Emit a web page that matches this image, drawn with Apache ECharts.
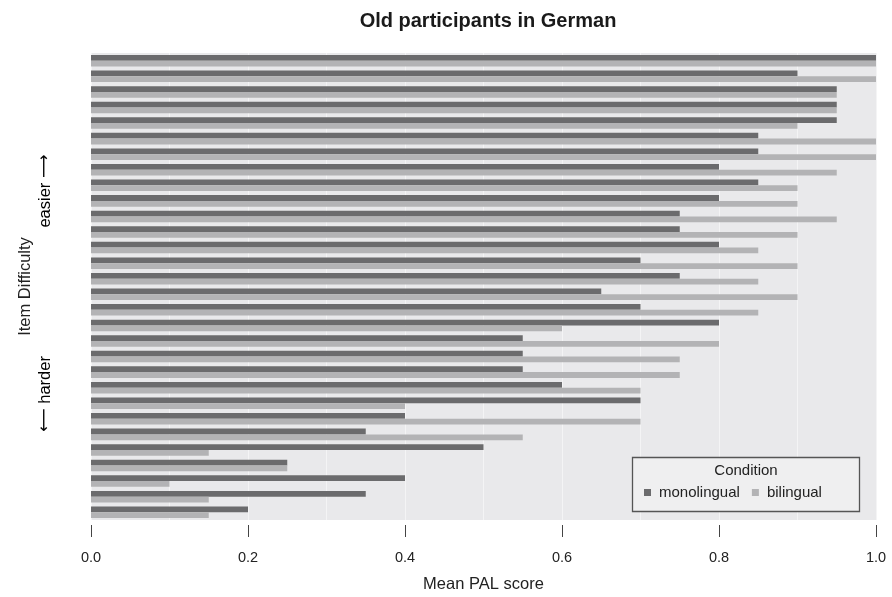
<!DOCTYPE html>
<html>
<head>
<meta charset="utf-8">
<script src="https://cdn.jsdelivr.net/npm/echarts@6/dist/echarts.min.js"></script>
<style>html,body{margin:0;padding:0;background:#fff}#c{width:892px;height:597px}</style>
</head>
<body>
<div id="c"></div>
<script>
// Items ordered from easiest (top) to hardest (bottom)
var items = ['1','2','3','4','5','6','7','8','9','10','11','12','13','14','15','16','17','18','19','20','21','22','23','24','25','26','27','28','29','30'];
var monolingual = [1.0,0.9,0.95,0.95,0.95,0.85,0.85,0.8,0.85,0.8,0.75,0.75,0.8,0.7,0.75,0.65,0.7,0.8,0.55,0.55,0.55,0.6,0.7,0.4,0.35,0.5,0.25,0.4,0.35,0.2];
var bilingual   = [1.0,1.0,0.95,0.95,0.9,1.0,1.0,0.95,0.9,0.9,0.95,0.9,0.85,0.9,0.85,0.9,0.85,0.6,0.8,0.75,0.75,0.7,0.4,0.7,0.55,0.15,0.25,0.1,0.15,0.15];
var xTicks = [0, 0.2, 0.4, 0.6, 0.8, 1.0];

var FONT = '"Liberation Sans", Arial, Helvetica, sans-serif';
var chart = echarts.init(document.getElementById('c'), null, {renderer: 'canvas'});
var richArrow = {
  t: {fontFamily: FONT, fontSize: 16.5, color: '#222'},
  a: {fontFamily: '"DejaVu Sans"', fontSize: 16.5, color: '#222'}
};
chart.setOption({
  backgroundColor: '#ffffff',
  animation: false,
  textStyle: {fontFamily: FONT},
  title: {
    text: 'Old participants in German',
    left: 483, top: 6, textAlign: 'center',
    textStyle: {fontFamily: FONT, fontSize: 20, fontWeight: 'bold', color: '#1a1a1a'}
  },
  grid: {
    left: 91, right: 16, top: 53, bottom: 77,
    outerBoundsMode: 'none', containLabel: false,
    show: true, backgroundColor: '#e9e9eb', borderWidth: 0
  },
  legend: {
    data: ['monolingual', 'bilingual'],
    left: 644, top: 485, z: 100,
    padding: 0,
    itemGap: 12, itemWidth: 7, itemHeight: 7,
    icon: 'rect',
    textStyle: {fontFamily: FONT, fontSize: 15, color: '#222', padding: [0, 0, 0, 3]}
  },
  xAxis: {
    type: 'value', min: 0, max: 1, interval: 0.2,
    offset: 5,
    name: 'Mean PAL score', nameLocation: 'middle', nameGap: 51,
    nameTextStyle: {fontFamily: FONT, fontSize: 16.5, color: '#222'},
    axisLine: {show: false},
    axisTick: {show: true, length: 12, lineStyle: {color: '#444', width: 1}},
    axisLabel: {
      margin: 25, fontSize: 14.5, color: '#222', fontFamily: FONT,
      formatter: function (v) { return v.toFixed(1); }
    },
    splitLine: {show: true, lineStyle: {color: '#f4f4f5', width: 1}},
    minorTick: {show: false, splitNumber: 2},
    minorSplitLine: {show: true, lineStyle: {color: '#f4f4f5', width: 1}}
  },
  yAxis: {
    type: 'category', data: items, inverse: true,
    name: 'Item Difficulty', nameLocation: 'middle', nameGap: 57, nameRotate: 90,
    nameTextStyle: {fontFamily: FONT, fontSize: 16.5, color: '#222'},
    axisLine: {show: false}, axisTick: {show: false}, axisLabel: {show: false},
    splitLine: {show: false}
  },
  series: [
    {name: 'monolingual', type: 'bar', data: monolingual, barGap: '0%', barCategoryGap: '26%',
     itemStyle: {color: '#6b6b6d'}},
    {name: 'bilingual', type: 'bar', data: bilingual, barGap: '0%', barCategoryGap: '26%',
     itemStyle: {color: '#b3b3b5'}}
  ],
  graphic: [
    {type: 'rect', z: 50, shape: {x: 632.5, y: 457.5, width: 227, height: 54},
     style: {fill: '#efeff0', stroke: '#555555', lineWidth: 1.3}},
    {type: 'text', z: 60, x: 746, y: 471,
     style: {text: 'Condition', font: '15px ' + FONT, fill: '#222', textAlign: 'center', textVerticalAlign: 'middle'}},
    {type: 'text', x: 45, y: 191, rotation: Math.PI / 2,
     style: {text: '{t|easier }{a|\u27F6}', rich: richArrow, textAlign: 'center', textVerticalAlign: 'middle'}},
    {type: 'text', x: 45, y: 394, rotation: Math.PI / 2,
     style: {text: '{a|\u27F5}{t| harder}', rich: richArrow, textAlign: 'center', textVerticalAlign: 'middle'}}
  ]
});
</script>
</body>
</html>
